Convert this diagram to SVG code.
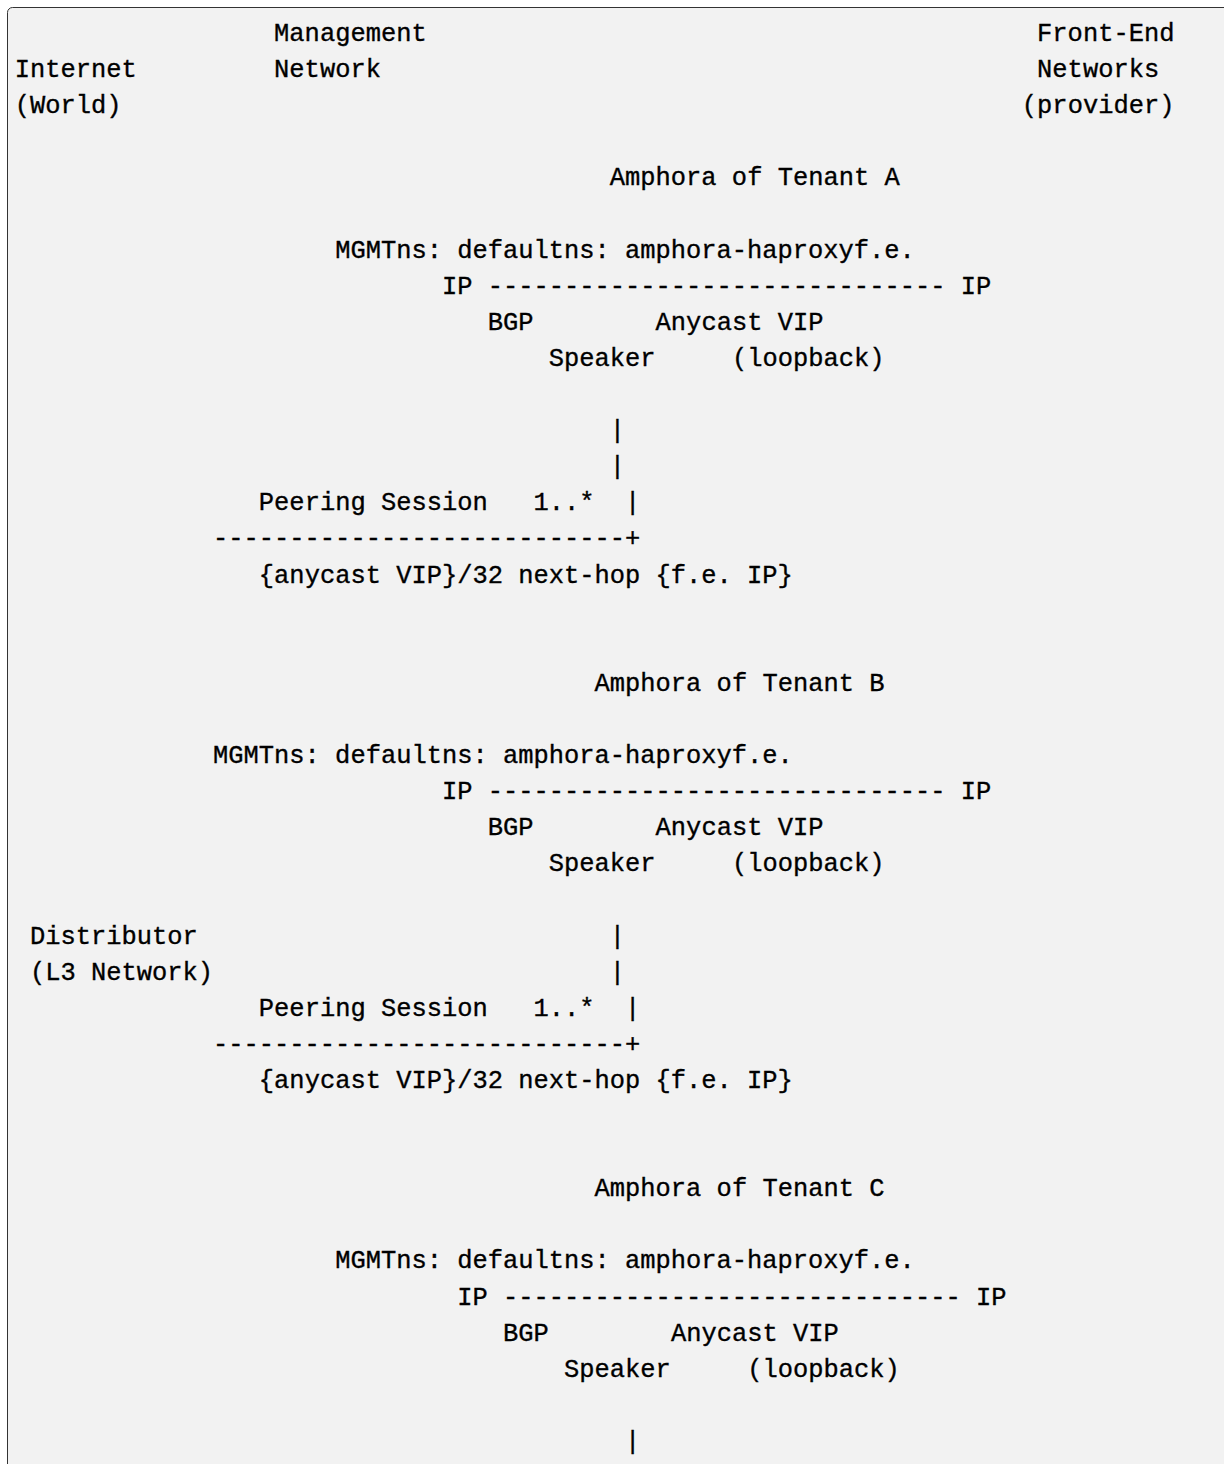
<svg xmlns="http://www.w3.org/2000/svg" width="1224" height="1464" viewBox="0 0 1224 1464">
<style>
text { font-family: "Liberation Mono", "DejaVu Sans Mono", monospace; font-size: 25.43px; fill: #000; stroke: #000; stroke-width: 0.35px; white-space: pre; }
</style>
<rect x="0" y="0" width="1224" height="1464" fill="#ffffff"/>
<rect x="7.5" y="7.5" width="1240" height="1500" rx="5" fill="#f2f2f2" stroke="#333333" stroke-width="1"/>
<g id="labels" xml:space="preserve">
<g id="internet"><text x="14.7" y="77.1">Internet</text><text x="14.7" y="113.2">(World)</text></g>
<g id="management"><text x="274.12" y="41">Management</text><text x="274.12" y="77.1">Network</text></g>
<g id="frontend"><text x="1037.12" y="41">Front-End</text><text x="1037.12" y="77.1">Networks</text><text x="1021.86" y="113.2">(provider)</text></g>
<g id="distributor"><text x="29.96" y="943.5">Distributor</text><text x="29.96" y="979.6">(L3 Network)</text></g>
</g>
<g id="amphora-a" xml:space="preserve">
<text x="609.84" y="185.4">Amphora of Tenant A</text>
<text x="335.16" y="257.6">MGMTns: defaultns: amphora-haproxyf.e.</text>
<text x="441.98" y="293.7">IP ------------------------------ IP</text>
<text x="487.76" y="329.8">BGP</text><text x="655.62" y="329.8">Anycast VIP</text>
<text x="548.8" y="365.9">Speaker</text><text x="731.92" y="365.9">(loopback)</text>
</g>
<g id="amphora-b" xml:space="preserve">
<text x="594.58" y="690.8">Amphora of Tenant B</text>
<text x="213.08" y="763">MGMTns: defaultns: amphora-haproxyf.e.</text>
<text x="441.98" y="799.1">IP ------------------------------ IP</text>
<text x="487.76" y="835.2">BGP</text><text x="655.62" y="835.2">Anycast VIP</text>
<text x="548.8" y="871.3">Speaker</text><text x="731.92" y="871.3">(loopback)</text>
</g>
<g id="amphora-c" xml:space="preserve">
<text x="594.58" y="1196.2">Amphora of Tenant C</text>
<text x="335.16" y="1268.4">MGMTns: defaultns: amphora-haproxyf.e.</text>
<text x="457.24" y="1304.5">IP ------------------------------ IP</text>
<text x="503.02" y="1340.6">BGP</text><text x="670.88" y="1340.6">Anycast VIP</text>
<text x="564.06" y="1376.7">Speaker</text><text x="747.18" y="1376.7">(loopback)</text>
</g>
<g id="connectors" xml:space="preserve">
<text x="609.84" y="438.1">|</text>
<text x="609.84" y="474.2">|</text>
<text x="258.86" y="510.3">Peering Session   1..*  |</text>
<text x="213.08" y="546.4">---------------------------+</text>
<text x="258.86" y="582.5">{anycast VIP}/32 next-hop {f.e. IP}</text>
<text x="609.84" y="943.5">|</text>
<text x="609.84" y="979.6">|</text>
<text x="258.86" y="1015.7">Peering Session   1..*  |</text>
<text x="213.08" y="1051.8">---------------------------+</text>
<text x="258.86" y="1087.9">{anycast VIP}/32 next-hop {f.e. IP}</text>
<text x="625.1" y="1448.9">|</text>
</g>
</svg>
